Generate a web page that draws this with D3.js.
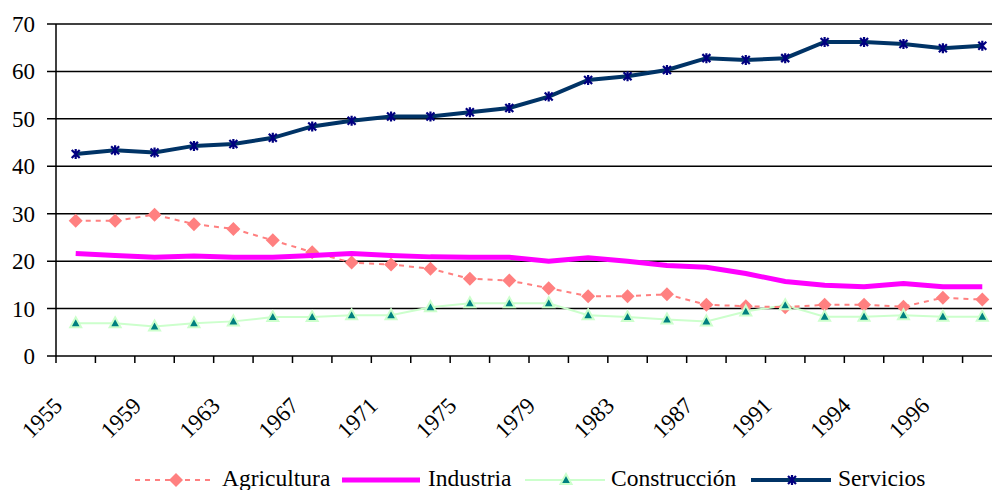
<!DOCTYPE html>
<html>
<head>
<meta charset="utf-8">
<script src="https://cdn.jsdelivr.net/npm/d3@7"></script>
<style>
  body { margin: 0; background: #fff; }
</style>
</head>
<body>
<div id="chart"></div>
<script>
// years (only every other one is labelled on the axis)
let years = [1955, 1957, 1959, 1961, 1963, 1965, 1967, 1969, 1971, 1973, 1975, 1977,
             1979, 1981, 1983, 1985, 1987, 1989, 1991, 1992, 1994, 1995, 1996, 1997];
let agricultura = [28.5, 28.5, 29.8, 27.8, 26.8, 24.4, 21.9, 19.7, 19.3, 18.4, 16.3, 15.9,
                   14.3, 12.6, 12.6, 13.0, 10.8, 10.5, 10.3, 10.8, 10.8, 10.4, 12.3, 11.9];
let industria = [21.6, 21.2, 20.8, 21.1, 20.8, 20.8, 21.2, 21.6, 21.2, 20.9, 20.8, 20.8,
                 20.0, 20.7, 20.0, 19.1, 18.7, 17.4, 15.7, 14.9, 14.6, 15.3, 14.6, 14.6];
let construccion = [6.9, 6.9, 6.2, 6.9, 7.3, 8.2, 8.2, 8.6, 8.6, 10.3, 11.1, 11.1,
                    11.1, 8.6, 8.2, 7.7, 7.3, 9.4, 10.7, 8.3, 8.3, 8.6, 8.3, 8.3];
let servicios = [42.6, 43.4, 42.9, 44.3, 44.7, 46.0, 48.4, 49.6, 50.5, 50.5, 51.4, 52.3,
                 54.7, 58.2, 59.0, 60.3, 62.8, 62.4, 62.8, 66.2, 66.2, 65.8, 64.9, 65.4];
let yTicks = [0, 10, 20, 30, 40, 50, 60, 70];

let width = 992, height = 490;
let margin = { top: 24, left: 56, right: 1002, bottom: 356 };
let fontFam = "Liberation Serif";

let svg = d3.select("#chart").append("svg")
    .attr("width", width)
    .attr("height", height);

// scales
let x = d3.scaleBand()
    .domain(years)
    .range([margin.left, margin.right]);

let y = d3.scaleLinear()
    .domain([0, 70])
    .range([margin.bottom, margin.top]);

// gridlines
svg.append("g")
    .selectAll("line")
    .data(yTicks)
    .enter().append("line")
    .attr("x1", margin.left - 9)
    .attr("x2", margin.right)
    .attr("y1", d => y(d))
    .attr("y2", d => y(d))
    .attr("stroke", "#000")
    .attr("stroke-width", 1.5);

// y axis labels
svg.append("g")
    .selectAll("text")
    .data(yTicks)
    .enter().append("text")
    .attr("x", 35)
    .attr("y", d => y(d) + 8)
    .attr("text-anchor", "end")
    .attr("font-family", fontFam)
    .attr("font-size", "23px")
    .text(d => d);

// y axis line
svg.append("line")
    .attr("x1", margin.left).attr("x2", margin.left)
    .attr("y1", margin.top).attr("y2", margin.bottom)
    .attr("stroke", "#000").attr("stroke-width", 1.5);

// x ticks at band boundaries
svg.append("g")
    .selectAll("line")
    .data(years)
    .enter().append("line")
    .attr("x1", d => x(d))
    .attr("x2", d => x(d))
    .attr("y1", margin.bottom)
    .attr("y2", margin.bottom + 7)
    .attr("stroke", "#000")
    .attr("stroke-width", 1.5);

// x labels, every other year
svg.append("g")
    .selectAll("text")
    .data(years.filter((d, i) => i % 2 === 0))
    .enter().append("text")
    .attr("text-anchor", "end")
    .attr("font-family", fontFam)
    .attr("font-size", "23px")
    .attr("transform", d => "translate(" + (x(d) + x.bandwidth() / 2 - 12) + ",407) rotate(-45)")
    .text(d => d);

let cx = (d, i) => x(years[i]) + x.bandwidth() / 2;
let line = d3.line().x(cx).y(d => y(d));

// marker symbols
let diamond = "M0,-7L7,0L0,7L-7,0Z";
let triangle = "M0,-6L5.5,4L-5.5,4Z";
let star = "M-4,-4L4,4M-4,4L4,-4M0,-5L0,5";

// Construccion
svg.append("path")
    .attr("d", line(construccion))
    .attr("fill", "none")
    .attr("stroke", "#CCFFCC")
    .attr("stroke-width", 2);

// Agricultura
svg.append("path")
    .attr("d", line(agricultura))
    .attr("fill", "none")
    .attr("stroke", "#FF8080")
    .attr("stroke-width", 2)
    .attr("stroke-dasharray", "5,5");

svg.append("g")
    .selectAll("path")
    .data(agricultura)
    .enter().append("path")
    .attr("d", diamond)
    .attr("transform", (d, i) => "translate(" + cx(d, i) + "," + y(d) + ")")
    .attr("fill", "#FF8080");

// Industria
svg.append("path")
    .attr("d", line(industria))
    .attr("fill", "none")
    .attr("stroke", "#FF00FF")
    .attr("stroke-width", 5);

// Construccion markers
svg.append("g")
    .selectAll("path")
    .data(construccion)
    .enter().append("path")
    .attr("d", triangle)
    .attr("transform", (d, i) => "translate(" + cx(d, i) + "," + y(d) + ")")
    .attr("fill", "#008080")
    .attr("stroke", "#CCFFCC")
    .attr("stroke-width", 2);

// Servicios
svg.append("path")
    .attr("d", line(servicios))
    .attr("fill", "none")
    .attr("stroke", "#003366")
    .attr("stroke-width", 4);

svg.append("g")
    .selectAll("path")
    .data(servicios)
    .enter().append("path")
    .attr("d", star)
    .attr("transform", (d, i) => "translate(" + cx(d, i) + "," + y(d) + ")")
    .attr("fill", "none")
    .attr("stroke", "#000080")
    .attr("stroke-width", 2.2);

// legend
let legend = svg.append("g")
    .attr("font-family", fontFam)
    .attr("font-size", "23.5px");
let ly = 480;

// Agricultura
legend.append("line")
    .attr("x1", 135).attr("x2", 212).attr("y1", ly).attr("y2", ly)
    .attr("stroke", "#FF8080").attr("stroke-width", 2).attr("stroke-dasharray", "5,5");
legend.append("path").attr("d", diamond)
    .attr("transform", "translate(176," + ly + ")").attr("fill", "#FF8080");
legend.append("text").attr("x", 222).attr("y", ly + 6).text("Agricultura");

// Industria
legend.append("line")
    .attr("x1", 342).attr("x2", 420).attr("y1", ly).attr("y2", ly)
    .attr("stroke", "#FF00FF").attr("stroke-width", 5);
legend.append("text").attr("x", 428).attr("y", ly + 6).text("Industria");

// Construccion
legend.append("line")
    .attr("x1", 525).attr("x2", 605).attr("y1", ly).attr("y2", ly)
    .attr("stroke", "#CCFFCC").attr("stroke-width", 2);
legend.append("path").attr("d", triangle)
    .attr("transform", "translate(566," + ly + ")")
    .attr("fill", "#008080").attr("stroke", "#CCFFCC").attr("stroke-width", 2);
legend.append("text").attr("x", 611).attr("y", ly + 6).text("Construcción");

// Servicios
legend.append("line")
    .attr("x1", 751).attr("x2", 831).attr("y1", ly).attr("y2", ly)
    .attr("stroke", "#003366").attr("stroke-width", 4);
legend.append("path").attr("d", star)
    .attr("transform", "translate(792," + ly + ")")
    .attr("fill", "none").attr("stroke", "#000080").attr("stroke-width", 2.2);
legend.append("text").attr("x", 838).attr("y", ly + 6).text("Servicios");
</script>
</body>
</html>
